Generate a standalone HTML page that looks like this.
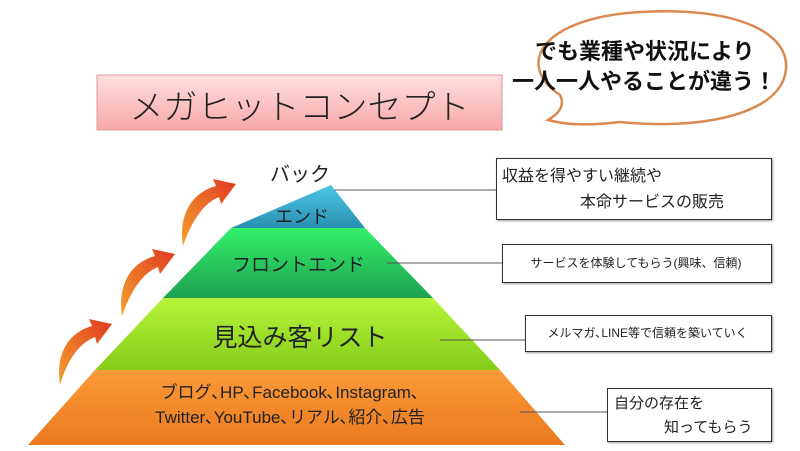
<!DOCTYPE html><html><head><meta charset="utf-8"><style>
body{margin:0;width:800px;height:451px;background:#fff;overflow:hidden;position:relative;font-family:"Liberation Sans","Noto Sans CJK JP",sans-serif}
.t{position:absolute;white-space:nowrap;color:#222}
.box{position:absolute;border:1.5px solid #333;background:#fff;box-shadow:1px 1px 2px #999}
</style></head><body>
<svg width="800" height="451" style="position:absolute;left:0;top:0">
<defs>
<linearGradient id="pk" x1="0" y1="0" x2="0" y2="1"><stop offset="0" stop-color="#fde0e0"/><stop offset="1" stop-color="#f9a8a8"/></linearGradient>
<linearGradient id="bl" x1="0" y1="0" x2="0" y2="1"><stop offset="0" stop-color="#4cc6e6"/><stop offset="1" stop-color="#2a8fb0"/></linearGradient>
<linearGradient id="gr" x1="0" y1="0" x2="0" y2="1"><stop offset="0" stop-color="#33f06a"/><stop offset="1" stop-color="#1ea050"/></linearGradient>
<linearGradient id="lm" x1="0" y1="0" x2="0" y2="1"><stop offset="0" stop-color="#b8f53a"/><stop offset="1" stop-color="#84cc1a"/></linearGradient>
<linearGradient id="or" x1="0" y1="0" x2="0" y2="1"><stop offset="0" stop-color="#fb9a38"/><stop offset="1" stop-color="#ea7a20"/></linearGradient>
<linearGradient id="ar" x1="0" y1="1" x2="1" y2="0"><stop offset="0" stop-color="#f5a030"/><stop offset="1" stop-color="#e03a20"/></linearGradient>
</defs>
<rect x="97" y="75" width="405" height="55" fill="url(#pk)" stroke="#d99" stroke-width="1"/>
<path d="M560,95 C515,65 540,18 640,12 C740,6 795,35 785,75 C775,115 700,130 620,122 C595,125 570,126 548,120 C560,113 565,105 560,95Z" fill="#fff" stroke="#d98a50" stroke-width="2.5"/>
<polygon points="331,185 231,228 365,228" fill="url(#bl)"/>
<polygon points="231,228 365,228 433,298 163,298" fill="url(#gr)"/>
<polygon points="163,298 433,298 500,370 95,370" fill="url(#lm)"/>
<polygon points="95,370 500,370 565,445 28,445" fill="url(#or)"/>
<g stroke="#555" stroke-width="1"><line x1="335" y1="190" x2="496" y2="190"/><line x1="387" y1="263" x2="502" y2="263"/><line x1="440" y1="340" x2="525" y2="340"/><line x1="520" y1="412" x2="607" y2="412"/></g>
<g fill="url(#ar)">
<path d="M60,385 C55,352 70,332 92,326 L89,319 L112,324 L97,344 L95,337 C80,343 68,358 60,385Z"/>
<path d="M122,316 C117,282 133,262 155,256 L152,249 L175,254 L160,274 L158,267 C143,273 131,290 122,316Z"/>
<path d="M183,246 C178,212 194,192 216,186 L213,179 L236,184 L221,204 L219,197 C204,203 192,220 183,246Z"/>
</g>
</svg>
<div class="t" style="left:97px;width:405px;top:80px;text-align:center;font-size:34px;font-family:'Noto Sans CJK JP',sans-serif;font-weight:300">メガヒットコンセプト</div>
<div class="t" style="left:535px;top:37px;font-size:22px;font-weight:bold;color:#111;line-height:30px">でも業種や状況により</div>
<div class="t" style="left:512px;top:67px;font-size:22px;font-weight:bold;color:#111;line-height:30px">一人一人やることが違う！</div>
<div class="t" style="left:270px;top:158px;font-size:20px">バック</div>
<div class="t" style="left:275px;top:203px;font-size:18px">エンド</div>
<div class="t" style="left:232px;width:130px;top:250px;font-size:19px;text-align:center">フロントエンド</div>
<div class="t" style="left:200px;width:200px;top:318px;font-size:25px;text-align:center">見込み客リスト</div>
<div class="t" style="left:120px;width:340px;top:380px;font-size:17px;text-align:center;line-height:25px">ブログ､HP､Facebook､Instagram､<br>Twitter､YouTube､リアル､紹介､広告</div>
<div class="box" style="left:496px;top:158px;width:274px;height:60px"></div>
<div class="t" style="left:502px;top:164px;font-size:16px;line-height:26px">収益を得やすい継続や<br><span style="padding-left:78px">本命サービスの販売</span></div>
<div class="box" style="left:502px;top:244px;width:268px;height:37px"></div>
<div class="t" style="left:502px;width:268px;top:254px;font-size:12px;text-align:center">サービスを体験してもらう(興味、信頼)</div>
<div class="box" style="left:525px;top:315px;width:245px;height:35px"></div>
<div class="t" style="left:525px;width:245px;top:324px;font-size:12px;text-align:center">メルマガ､LINE等で信頼を築いていく</div>
<div class="box" style="left:607px;top:388px;width:163px;height:52px"></div>
<div class="t" style="left:614px;top:392px;font-size:15px;line-height:24px">自分の存在を<br><span style="padding-left:50px">知ってもらう</span></div>
</body></html>
